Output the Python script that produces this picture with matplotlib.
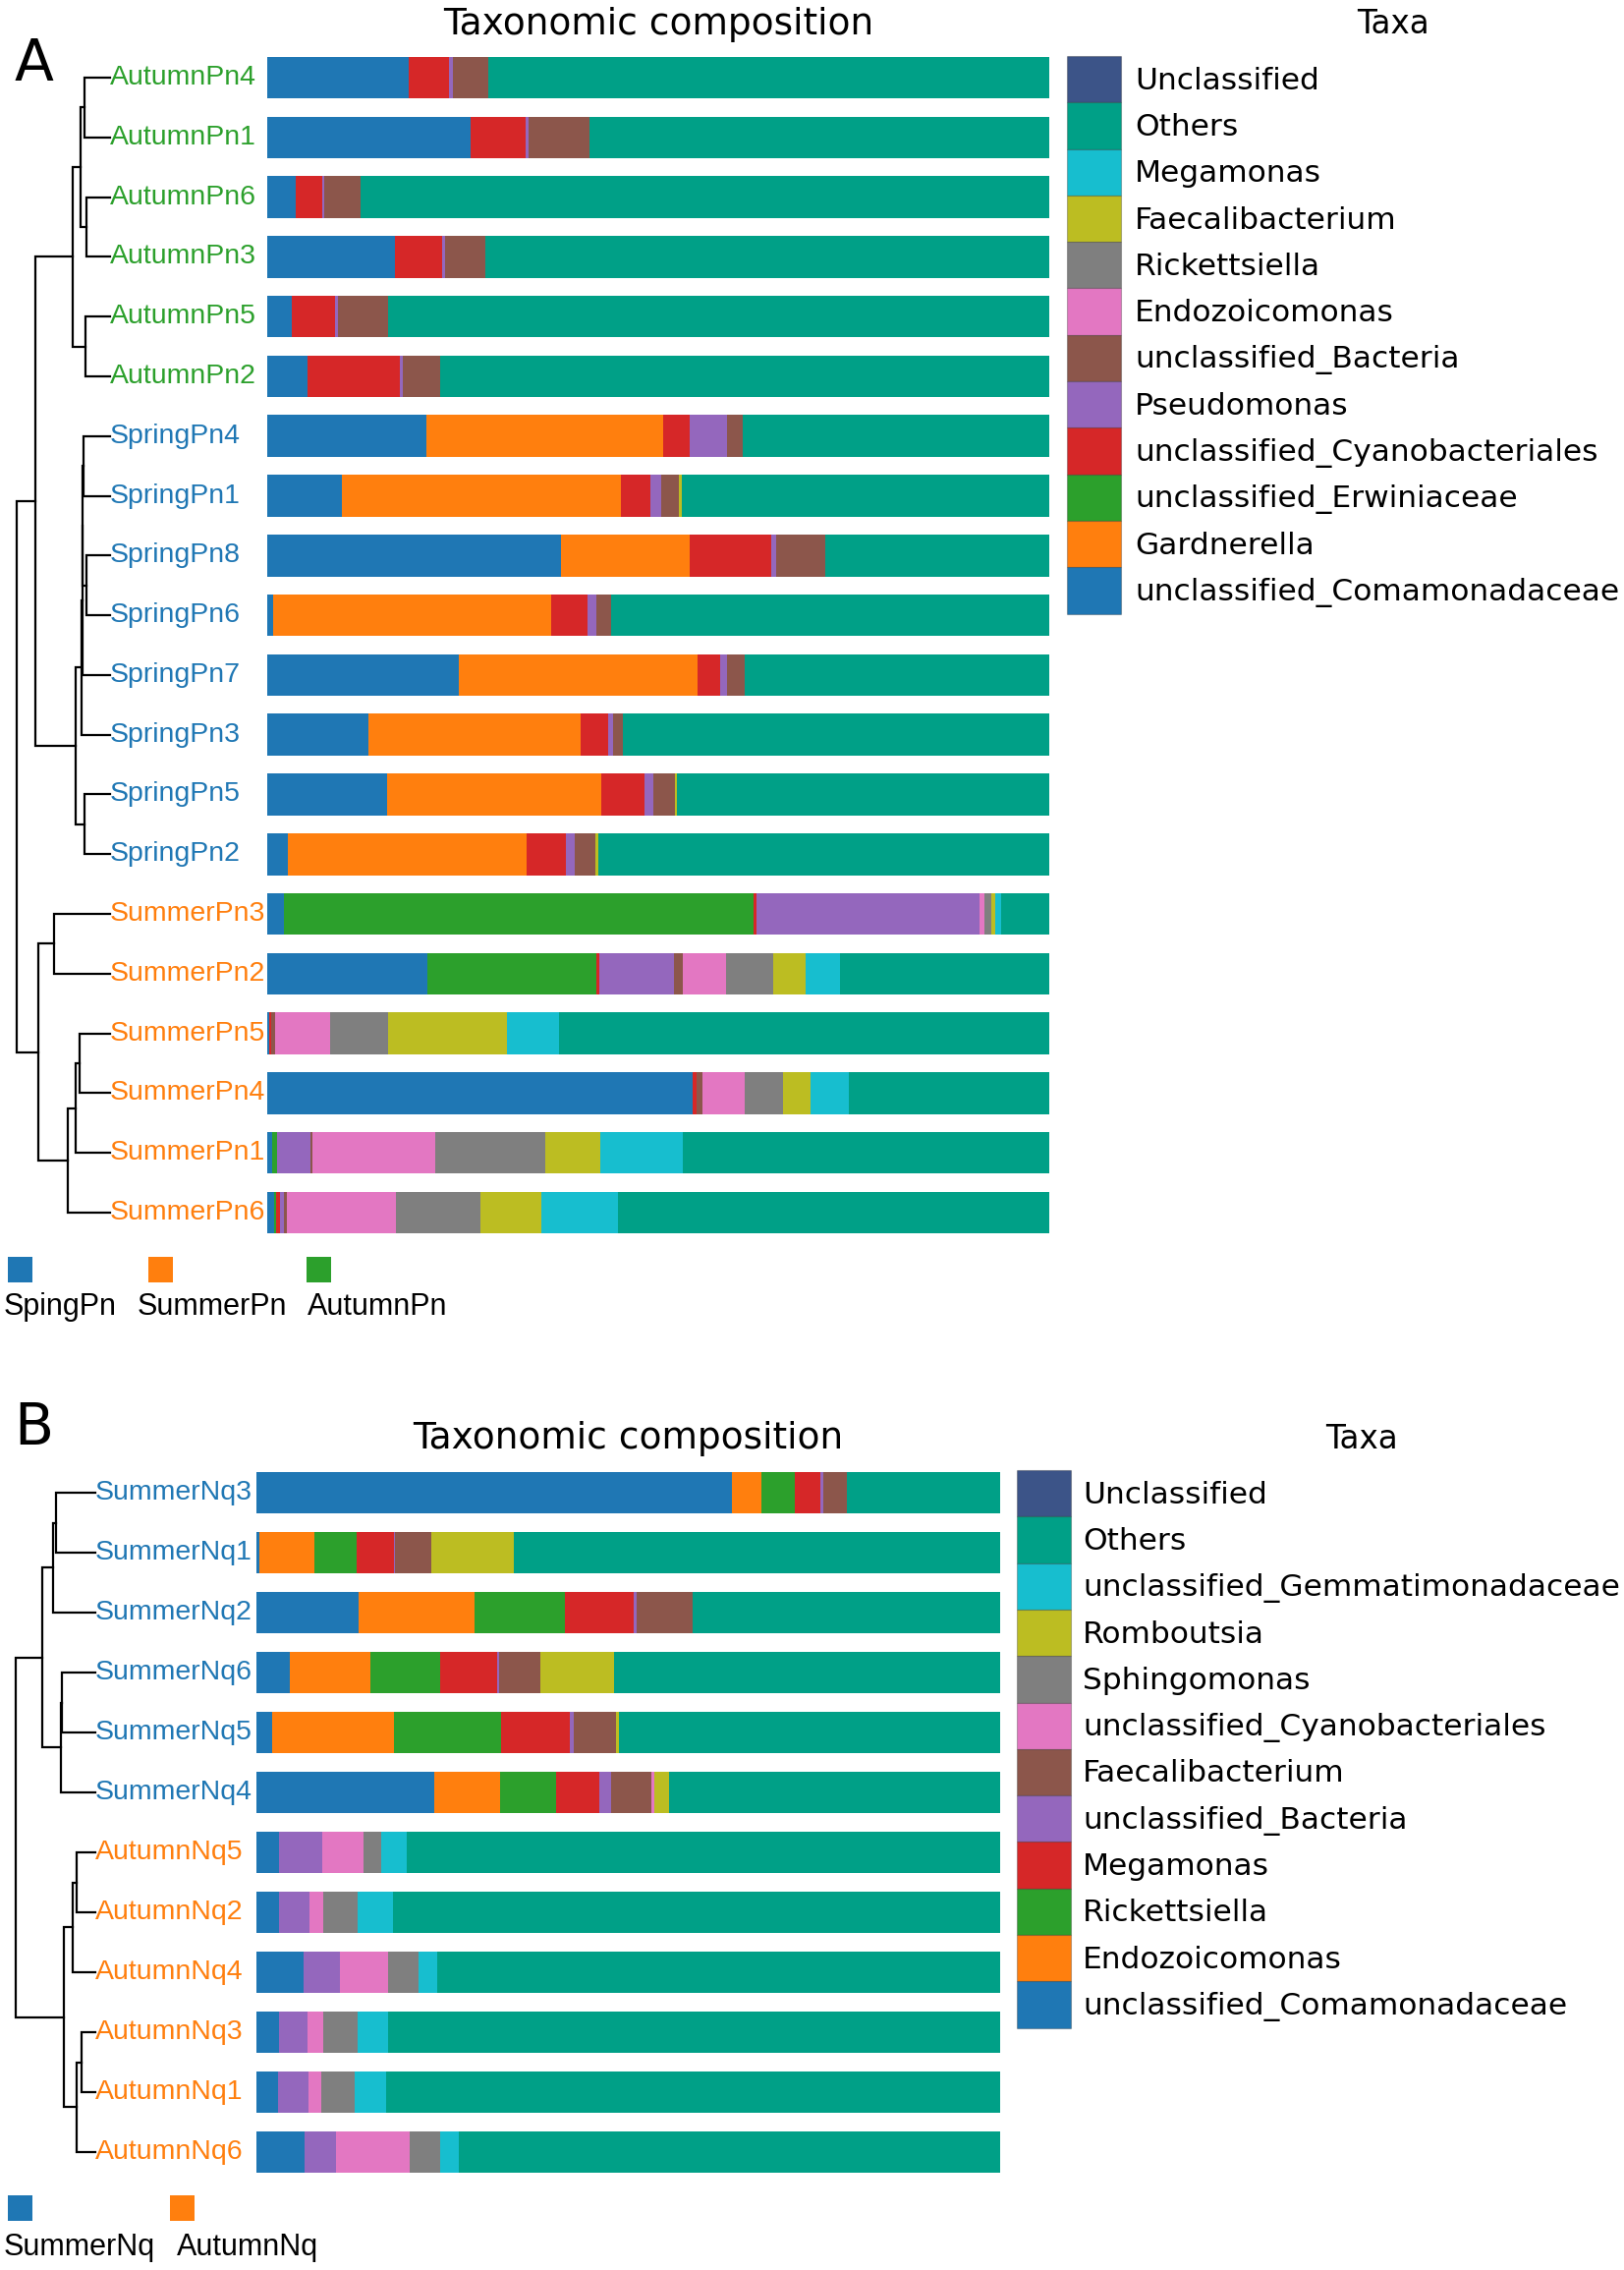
import matplotlib
matplotlib.use("Agg")
import matplotlib.pyplot as plt
from matplotlib.patches import Patch, Rectangle

W, H = 1653, 2310
DPI = 100

TAB = ['#1f77b4', '#ff7f0e', '#2ca02c', '#d62728', '#9467bd', '#8c564b',
       '#e377c2', '#7f7f7f', '#bcbd22', '#17becf', '#00A087', '#3C5488']

# ---------------- panel A data ----------------
samples_a = ['AutumnPn4', 'AutumnPn1', 'AutumnPn6', 'AutumnPn3', 'AutumnPn5', 'AutumnPn2',
             'SpringPn4', 'SpringPn1', 'SpringPn8', 'SpringPn6', 'SpringPn7', 'SpringPn3',
             'SpringPn5', 'SpringPn2', 'SummerPn3', 'SummerPn2', 'SummerPn5', 'SummerPn4',
             'SummerPn1', 'SummerPn6']
taxa_a = ['unclassified_Comamonadaceae', 'Gardnerella', 'unclassified_Erwiniaceae',
          'unclassified_Cyanobacteriales', 'Pseudomonas', 'unclassified_Bacteria',
          'Endozoicomonas', 'Rickettsiella', 'Faecalibacterium', 'Megamonas',
          'Others', 'Unclassified']
a_comamonadaceae = [0.181, 0.260, 0.037, 0.163, 0.032, 0.052, 0.204, 0.096, 0.376, 0.007,
                    0.245, 0.129, 0.153, 0.027, 0.021, 0.205, 0.003, 0.544, 0.006, 0.009]
a_gardnerella = [0, 0, 0, 0, 0, 0, 0.302, 0.356, 0.164, 0.356,
                 0.305, 0.272, 0.274, 0.305, 0, 0, 0, 0, 0, 0]
a_erwiniaceae = [0, 0, 0, 0, 0, 0, 0, 0, 0, 0,
                 0, 0, 0, 0, 0.601, 0.216, 0, 0, 0.006, 0.002]
a_cyanobacteriales = [0.052, 0.070, 0.033, 0.061, 0.055, 0.117, 0.034, 0.038, 0.105, 0.046,
                      0.029, 0.035, 0.056, 0.050, 0.003, 0.003, 0.002, 0.005, 0.001, 0.005]
a_pseudomonas = [0.004, 0.004, 0.003, 0.003, 0.004, 0.004, 0.048, 0.014, 0.006, 0.012,
                 0.009, 0.006, 0.011, 0.011, 0.286, 0.096, 0.0, 0.0, 0.042, 0.005]
a_bacteria = [0.046, 0.078, 0.046, 0.052, 0.063, 0.048, 0.020, 0.023, 0.063, 0.019,
              0.022, 0.013, 0.027, 0.027, 0.0, 0.011, 0.005, 0.007, 0.003, 0.004]
a_endozoicomonas = [0, 0, 0, 0, 0, 0, 0, 0, 0, 0,
                    0, 0, 0, 0, 0.006, 0.056, 0.071, 0.054, 0.157, 0.140]
a_rickettsiella = [0, 0, 0, 0, 0, 0, 0, 0, 0, 0,
                   0, 0, 0, 0, 0.009, 0.060, 0.073, 0.050, 0.141, 0.108]
a_faecalibacterium = [0, 0, 0, 0, 0, 0, 0, 0.003, 0, 0,
                      0, 0, 0.003, 0.003, 0.005, 0.041, 0.152, 0.035, 0.070, 0.077]
a_megamonas = [0, 0, 0, 0, 0, 0, 0, 0, 0, 0,
               0, 0, 0, 0, 0.008, 0.044, 0.067, 0.049, 0.105, 0.099]
a_others = [0.717, 0.588, 0.881, 0.721, 0.846, 0.779, 0.392, 0.470, 0.286, 0.560,
            0.390, 0.545, 0.476, 0.577, 0.061, 0.268, 0.627, 0.256, 0.469, 0.551]
a_unclassified = [0.0] * 20
values_a = [a_comamonadaceae, a_gardnerella, a_erwiniaceae, a_cyanobacteriales,
            a_pseudomonas, a_bacteria, a_endozoicomonas, a_rickettsiella,
            a_faecalibacterium, a_megamonas, a_others, a_unclassified]

# tree: (height, left, right); heights in pixels from the leaves
tree_a = (95,
          (76,
           (38, (30, (26, 'AutumnPn4', 'AutumnPn1'), (24, 'AutumnPn6', 'AutumnPn3')),
            (25, 'AutumnPn5', 'AutumnPn2')),
           (35, (29, (28.5, (28, (27, 'SpringPn4', 'SpringPn1'), (24, 'SpringPn8', 'SpringPn6')),
                      'SpringPn7'), 'SpringPn3'),
            (26, 'SpringPn5', 'SpringPn2'))),
          (73, (57, 'SummerPn3', 'SummerPn2'),
           (43, (35, (31, 'SummerPn5', 'SummerPn4'), 'SummerPn1'), 'SummerPn6')))
groups_a = ['SpingPn', 'SummerPn', 'AutumnPn']
group_colors_a = {'Spring': '#1f77b4', 'Summer': '#ff7f0e', 'Autumn': '#2ca02c'}

# ---------------- panel B data ----------------
samples_b = ['SummerNq3', 'SummerNq1', 'SummerNq2', 'SummerNq6', 'SummerNq5', 'SummerNq4',
             'AutumnNq5', 'AutumnNq2', 'AutumnNq4', 'AutumnNq3', 'AutumnNq1', 'AutumnNq6']
taxa_b = ['unclassified_Comamonadaceae', 'Endozoicomonas', 'Rickettsiella', 'Megamonas',
          'unclassified_Bacteria', 'Faecalibacterium', 'unclassified_Cyanobacteriales',
          'Sphingomonas', 'Romboutsia', 'unclassified_Gemmatimonadaceae', 'Others',
          'Unclassified']
b_comamonadaceae = [0.640, 0.005, 0.138, 0.046, 0.022, 0.239, 0.031, 0.031, 0.064, 0.031, 0.030, 0.065]
b_endozoicomonas = [0.039, 0.073, 0.156, 0.108, 0.164, 0.089, 0, 0, 0, 0, 0, 0]
b_rickettsiella = [0.045, 0.057, 0.121, 0.094, 0.144, 0.075, 0, 0, 0, 0, 0, 0]
b_megamonas = [0.034, 0.050, 0.092, 0.076, 0.092, 0.058, 0, 0, 0, 0, 0, 0]
b_bacteria = [0.004, 0.002, 0.004, 0.003, 0.005, 0.016, 0.058, 0.041, 0.049, 0.038, 0.041, 0.042]
b_faecalibacterium = [0.032, 0.048, 0.076, 0.055, 0.057, 0.054, 0, 0, 0, 0, 0, 0]
b_cyanobacteriales = [0, 0, 0, 0, 0, 0.004, 0.055, 0.018, 0.064, 0.022, 0.017, 0.099]
b_sphingomonas = [0, 0, 0, 0, 0, 0, 0.024, 0.047, 0.041, 0.046, 0.045, 0.042]
b_romboutsia = [0, 0.111, 0, 0.099, 0.004, 0.020, 0, 0, 0, 0, 0, 0]
b_gemmatimonadaceae = [0, 0, 0, 0, 0, 0, 0.034, 0.047, 0.026, 0.040, 0.042, 0.024]
b_others = [0.206, 0.654, 0.413, 0.519, 0.512, 0.445, 0.798, 0.816, 0.756, 0.823, 0.825, 0.728]
b_unclassified = [0.0] * 12
values_b = [b_comamonadaceae, b_endozoicomonas, b_rickettsiella, b_megamonas, b_bacteria,
            b_faecalibacterium, b_cyanobacteriales, b_sphingomonas, b_romboutsia,
            b_gemmatimonadaceae, b_others, b_unclassified]

tree_b = (81,
          (54, (43, (40, 'SummerNq3', 'SummerNq1'), 'SummerNq2'),
           (35, (34, 'SummerNq6', 'SummerNq5'), 'SummerNq4')),
          (32, (23, (19, 'AutumnNq5', 'AutumnNq2'), 'AutumnNq4'),
           (19, (14, 'AutumnNq3', 'AutumnNq1'), 'AutumnNq6')))
groups_b = ['SummerNq', 'AutumnNq']
group_colors_b = {'Summer': '#1f77b4', 'Autumn': '#ff7f0e'}


def fy(y):
    return 1 - y / H


def draw_tree(ax, node, order):
    if isinstance(node, str):
        return order.index(node), 0
    h, left, right = node
    yl, hl = draw_tree(ax, left, order)
    yr, hr = draw_tree(ax, right, order)
    ax.plot([hl, h, h, hr], [yl, yl, yr, yr], color='black', lw=1.6,
            solid_joinstyle='miter', clip_on=False)
    return (yl + yr) / 2, h


def panel(fig, samples, taxa, values, tree, label_colors, leaf_x, bar_left, bar_right,
          top, bottom, legend_x, legend_y, text_pad, title_y, taxa_x):
    n = len(samples)
    bh = (bottom - top) / H
    axb = fig.add_axes([bar_left / W, fy(bottom), (bar_right - bar_left) / W, bh])
    left = [0.0] * n
    for taxon, vals, col in zip(taxa, values, TAB):
        axb.barh(range(n), vals, left=left, height=0.7, color=col, linewidth=0)
        left = [a + b for a, b in zip(left, vals)]
    axb.set_xlim(0, 1)
    axb.set_ylim(n - 0.5, -0.5)
    axb.axis('off')

    axd = fig.add_axes([0, fy(bottom), leaf_x / W, bh])
    draw_tree(axd, tree, samples)
    axd.set_xlim(leaf_x, 0)
    axd.set_ylim(n - 0.5, -0.5)
    axd.axis('off')
    for i, s in enumerate(samples):
        col = [c for k, c in label_colors.items() if s.startswith(k)][0]
        axd.text(0, i, s, ha='left', va='center', fontsize=20.5, color=col,
                 family='Liberation Sans', clip_on=False)

    fig.text((bar_left + bar_right) / 2 / W, fy(title_y), 'Taxonomic composition',
             ha='center', va='center', fontsize=27)
    fig.text(taxa_x / W, fy(title_y), 'Taxa', ha='center', va='center', fontsize=23.5)

    fs = 22.5
    fpx = fs * DPI / 72
    # legend patch height = fs * (0.65 * handleheight + 0.245)
    hh = (47.3 / fpx - 0.245) / 0.65
    handles = [Patch(facecolor=c, edgecolor=(0, 0, 0, 0.25), linewidth=0.8)
               for c in TAB[:len(taxa)]][::-1]
    fig.legend(handles, taxa[::-1], loc='upper left',
               bbox_to_anchor=(legend_x / W, fy(legend_y)), frameon=False,
               borderpad=0, borderaxespad=0, labelspacing=0, fontsize=fs,
               handlelength=55 / fpx, handleheight=hh,
               handletextpad=text_pad / fpx)


fig = plt.figure(figsize=(W / DPI, H / DPI), dpi=DPI)

panel(fig, samples_a, taxa_a, values_a, tree_a, group_colors_a,
      leaf_x=112, bar_left=272, bar_right=1068, top=48.6, bottom=1264.4,
      legend_x=1086, legend_y=57, text_pad=14, title_y=25, taxa_x=1418)
panel(fig, samples_b, taxa_b, values_b, tree_b, group_colors_b,
      leaf_x=97, bar_left=260.5, bar_right=1018, top=1488.5, bottom=2220.5,
      legend_x=1035, legend_y=1496, text_pad=12, title_y=1464, taxa_x=1386)

fig.text(34 / W, fy(66), 'A', ha='center', va='center', fontsize=42)
fig.text(34 / W, fy(1454), 'B', ha='center', va='center', fontsize=42)

# group keys under each panel
for names, colors, xs, txs, ys in [
        (groups_a, ['#1f77b4', '#ff7f0e', '#2ca02c'], [8, 151, 312], [4, 140, 313], (1279, 1330)),
        (groups_b, ['#1f77b4', '#ff7f0e'], [8, 173], [4, 180], (2234, 2287))]:
    for name, c, x, tx in zip(names, colors, xs, txs):
        fig.add_artist(Rectangle((x / W, fy(ys[0] + 26)), 25 / W, 26 / H,
                                 facecolor=c, edgecolor='none', transform=fig.transFigure))
        fig.text(tx / W, fy(ys[1]), name, ha='left', va='center', fontsize=22,
                 family='Liberation Sans')

fig.savefig('out.png', dpi=DPI)
